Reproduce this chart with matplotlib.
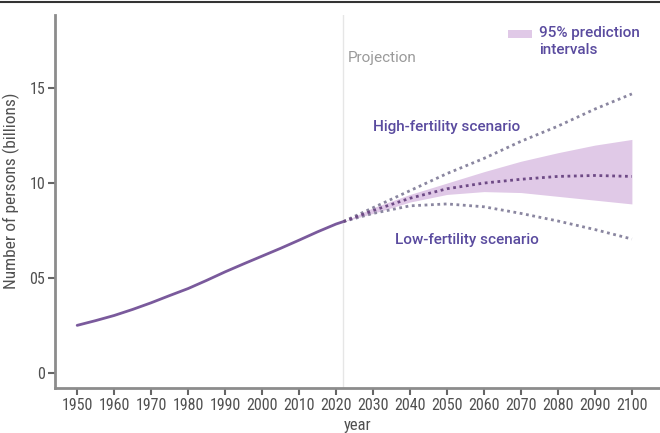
import matplotlib
matplotlib.use("Agg")
import matplotlib.pyplot as plt
from matplotlib import font_manager
from matplotlib.lines import Line2D
from matplotlib.patches import Rectangle

# ==============================
# Data (billions)
# ==============================
hist_years = [1950, 1955, 1960, 1965, 1970, 1975, 1980, 1985, 1990, 1995,
              2000, 2005, 2010, 2015, 2020, 2022]
hist_pop = [2.50, 2.75, 3.02, 3.34, 3.69, 4.07, 4.44, 4.87, 5.32, 5.74,
            6.15, 6.56, 6.99, 7.43, 7.84, 7.97]

proj_years = [2022, 2030, 2040, 2050, 2060, 2070, 2080, 2090, 2100]
median = [7.97, 8.55, 9.2, 9.7, 10.0, 10.2, 10.35, 10.4, 10.35]
high = [7.97, 8.7, 9.6, 10.5, 11.3, 12.2, 13.0, 13.9, 14.7]
low = [7.97, 8.4, 8.8, 8.9, 8.75, 8.4, 8.0, 7.55, 7.05]
band_hi = [7.97, 8.7, 9.4, 10.0, 10.6, 11.15, 11.6, 12.0, 12.3]
band_lo = [7.97, 8.4, 9.0, 9.4, 9.55, 9.5, 9.3, 9.1, 8.9]

x_ticks = list(range(1950, 2101, 10))
y_ticks = [0, 5, 10, 15]
y_ticklabels = ["0", "05", "10", "15"]

PURPLE_TXT = "#5a4b9f"
BAND = "#e0c9e7"

# pick a condensed face for the axis text if one is installed
installed = {f.name for f in font_manager.fontManager.ttflist}
narrow = [n for n in ["Roboto Condensed", "Liberation Sans Narrow",
                      "DejaVu Sans Condensed", "Open Sans Condensed"]
          if n in installed] + ["DejaVu Sans"]
roboto = ["Roboto", "DejaVu Sans"]

fig = plt.figure(figsize=(6.6, 4.33), dpi=100)
ax = fig.add_axes([0.0833, 0.104, 0.9167, 0.861])

ax.fill_between(proj_years, band_lo, band_hi, color=BAND, linewidth=0, zorder=1)
ax.plot(hist_years, hist_pop, color="#7a5a9c", lw=2, solid_capstyle="round", zorder=3)
ax.plot(proj_years, high, color="#8a86a0", lw=2, ls=(0, (1, 1.3)), zorder=3)
ax.plot(proj_years, low, color="#8a86a0", lw=2, ls=(0, (1, 1.3)), zorder=3)
ax.plot(proj_years, median, color="#6e4a86", lw=2, ls=(0, (1, 1.3)), zorder=4)

# Projection divider
ax.axvline(2022, color="#e6e6e6", lw=1, zorder=0)
ax.text(2023.3, 16.6, "Projection", color="#9a9a9a", fontsize=11,
        family=roboto, va="center", ha="left")

ax.text(2030, 12.95, "High-fertility scenario", color=PURPLE_TXT, fontsize=11,
        family=roboto, fontweight="medium", va="center")
ax.text(2036, 7.0, "Low-fertility scenario", color=PURPLE_TXT, fontsize=11,
        family=roboto, fontweight="medium", va="center")

# Legend for the band
ax.add_patch(Rectangle((2066.5, 17.65), 6.5, 0.42, color=BAND, lw=0,
                       clip_on=False))
ax.text(2074.9, 17.9, "95% prediction", color=PURPLE_TXT, fontsize=11,
        family=roboto, fontweight="medium", va="center", ha="left")
ax.text(2074.9, 17.0, "intervals", color=PURPLE_TXT, fontsize=11,
        family=roboto, fontweight="medium", va="center", ha="left")

ax.set_xlim(1944, 2107.6)
ax.set_ylim(-0.8, 18.85)
ax.set_xticks(x_ticks)
ax.set_yticks(y_ticks)
ax.set_yticklabels(y_ticklabels)

for s in ["top", "right"]:
    ax.spines[s].set_visible(False)
for s in ["left", "bottom"]:
    ax.spines[s].set_color("#8c8c8c")
    ax.spines[s].set_linewidth(2)

ax.tick_params(axis="both", colors="#666666", labelcolor="#505050",
               length=5, width=1.5, labelsize=11.5)
ax.tick_params(axis="x", pad=2)
ax.tick_params(axis="y", pad=2)
for lbl in ax.get_xticklabels() + ax.get_yticklabels():
    lbl.set_family(narrow)

ax.set_xlabel("year", color="#505050", fontsize=12, family=narrow, labelpad=4)
ax.set_ylabel("Number of persons (billions)", color="#505050", fontsize=12.5,
              family=narrow, labelpad=6)
ax.yaxis.set_label_coords(-0.058, 0.53)

# Thin dark rule across the top of the figure
fig.add_artist(Line2D([0, 1], [0.995, 0.995], color="#333333", lw=1.5,
                      transform=fig.transFigure))

fig.savefig("out.png", dpi=100)
